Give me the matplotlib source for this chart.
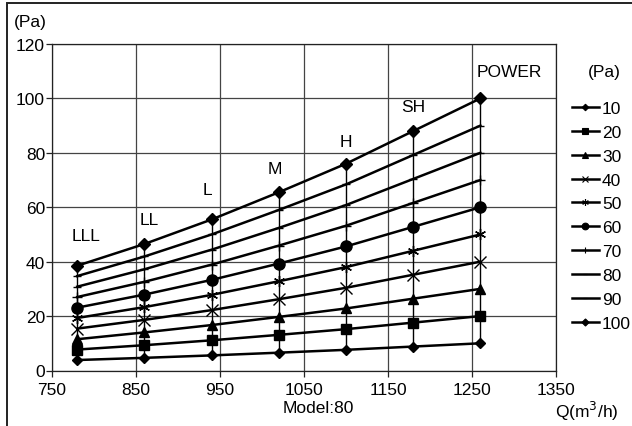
import matplotlib
matplotlib.use("Agg")
import matplotlib.pyplot as plt
from matplotlib.lines import Line2D
from matplotlib.patches import Rectangle

plt.rcParams['font.family'] = ['Liberation Sans', 'DejaVu Sans']
FS = 12.5
plt.rcParams['font.size'] = FS

# airflow of each fan speed step (m3/h)
flow = [780, 860, 940, 1020, 1100, 1180, 1260]
speeds = ["LLL", "LL", "L", "M", "H", "SH", "POWER"]

# static pressure curves (Pa), one per legend entry
labels = ["10", "20", "30", "40", "50", "60", "70", "80", "90", "100"]
p10 = [3.85, 4.65, 5.55, 6.55, 7.6, 8.8, 10]
p20 = [7.7, 9.3, 11.1, 13.1, 15.2, 17.6, 20]
p30 = [11.5, 14.0, 16.7, 19.7, 22.8, 26.4, 30]
p40 = [15.4, 18.6, 22.2, 26.2, 30.4, 35.2, 40]
p50 = [19.3, 23.3, 27.8, 32.8, 38.0, 44.0, 50]
p60 = [23.1, 27.9, 33.3, 39.3, 45.6, 52.8, 60]
p70 = [27.0, 32.6, 38.9, 45.9, 53.2, 61.6, 70]
p80 = [30.8, 37.2, 44.4, 52.4, 60.8, 70.4, 80]
p90 = [34.7, 41.9, 50.0, 59.0, 68.4, 79.2, 90]
p100 = [38.5, 46.5, 55.5, 65.5, 76.0, 88.0, 100]
curves = [p10, p20, p30, p40, p50, p60, p70, p80, p90, p100]

markers = ['D', 's', '^', 'x', (6, 2, 0), 'o', '+', '_', '_', 'D']
msizes = [5.5, 7, 7, 8, 8, 8, 7, 6, 6, 6]

fig = plt.figure(figsize=(6.32, 4.27), dpi=100)
ax = fig.add_axes([52/632, 1-371.5/427, 504/632, 326.5/427])

# vertical line at every speed step
ax.vlines(flow, [min(c[i] for c in curves) for i in range(len(flow))],
          [max(c[i] for c in curves) for i in range(len(flow))],
          color='black', lw=1.0, zorder=2)

handles = []
for c, m, ms, lab in zip(curves, markers, msizes, labels):
    ax.plot(flow, c, color='black', lw=1.8, marker=m, markersize=ms,
            markeredgewidth=1.0, zorder=3)
    handles.append(Line2D([], [], color='black', lw=1.8, marker=m,
                          markersize=ms*0.6, markeredgewidth=0.8, label=lab))

# speed step names above the top curve
offs = [(10, 11), (6, 9), (-5, 11), (-5, 8.6), (0, 8), (0, 9)]
for i, (dx, dy) in enumerate(offs):
    ax.text(flow[i]+dx, p100[i]+dy, speeds[i], ha='center', va='center')
ax.text(1255, 110, speeds[-1], ha='left', va='center')

ax.set_xlim(750, 1350)
ax.set_ylim(0, 120)
ax.set_xticks(range(750, 1351, 100))
ax.set_yticks(range(0, 121, 20))
ax.grid(True, color='#444444', lw=0.9)
ax.set_axisbelow(True)
for s in ax.spines.values():
    s.set_color('#222222')
    s.set_linewidth(0.9)
ax.tick_params(direction='out', length=4, width=0.9, color='#222222', labelsize=FS)
ax.tick_params(axis='x', pad=4)
ax.tick_params(axis='y', pad=1)

fig.text(30/632, 1-22.5/427, "(Pa)", ha='center', va='center')
fig.text(318/632, 1-409/427, "Model:80", ha='center', va='center')
fig.text(587/632, 1-411/427, "Q(m$^3$/h)", ha='center', va='center')
fig.text(604.5/632, 1-73/427, "(Pa)", ha='center', va='center')

fig.legend(handles=handles, loc='upper left',
           bbox_to_anchor=(572/632, 1-102/427), frameon=False,
           handlelength=1.55, handletextpad=0.17, labelspacing=0.5,
           borderpad=0, borderaxespad=0, fontsize=FS)

fig.add_artist(Rectangle((7/632, -0.05), 1.0, 1.05-4/427, transform=fig.transFigure,
                         fill=False, lw=1.4, color='#222222'))

fig.savefig("out.png", dpi=100)
